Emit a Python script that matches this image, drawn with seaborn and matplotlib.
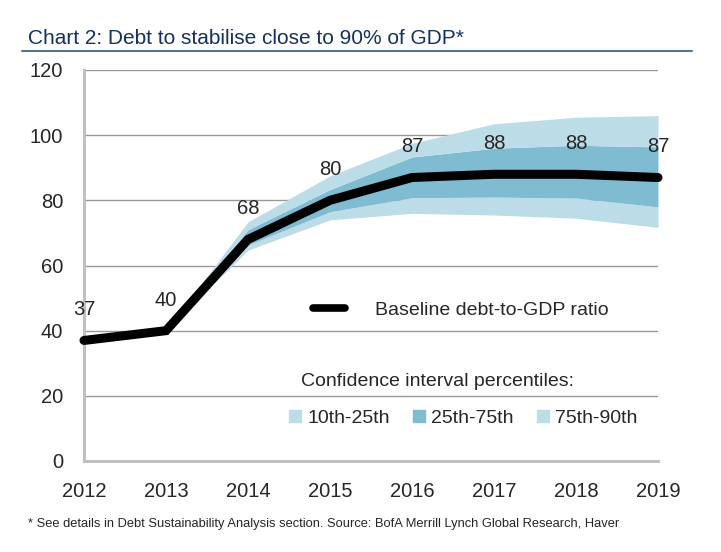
import pandas as pd
import seaborn as sns
import matplotlib.pyplot as plt
from matplotlib.lines import Line2D
from matplotlib.patches import Patch

# baseline path and the simulated percentile bands (bands start at 2013)
years = [2012, 2013, 2014, 2015, 2016, 2017, 2018, 2019]
baseline = [37, 40, 68, 80, 87, 88, 88, 87]
band_years = [2013, 2014, 2015, 2016, 2017, 2018, 2019]
p10 = [40, 64.7, 74, 76, 75.5, 74.5, 71.7]
p25 = [40, 66.3, 76.5, 80.8, 81, 80.7, 78]
p75 = [40, 71, 83.3, 93.3, 96, 96.9, 96.4]
p90 = [40, 73.4, 87.5, 97.5, 103.5, 105.5, 106]
band_labels = ['10th-25th', '25th-75th', '75th-90th']

light = '#bcdde7'
mid = '#7fbbd1'
grey = '#c0c0c0'

sns.set_style("white")
plt.rcParams['font.family'] = ['Liberation Sans', 'DejaVu Sans']

df = pd.DataFrame({'year': years, 'debt': baseline})
bands = pd.DataFrame({'year': band_years, 'p10': p10, 'p25': p25, 'p75': p75, 'p90': p90})

fig = plt.figure(figsize=(7.21, 5.52), dpi=100)
ax = fig.add_axes([84 / 721, 91 / 552, 574 / 721, 391 / 552])

ax.fill_between(bands['year'], bands['p10'], bands['p25'], color=light, lw=0)
ax.fill_between(bands['year'], bands['p25'], bands['p75'], color=mid, lw=0)
ax.fill_between(bands['year'], bands['p75'], bands['p90'], color=light, lw=0)
sns.lineplot(data=df, x='year', y='debt', ax=ax, color='black', lw=6.5,
             solid_joinstyle='miter', clip_on=False, zorder=5)

for x, v in zip(years, baseline):
    ax.annotate(str(v), (x, v), xytext=(0, 22), textcoords='offset points',
                ha='center', va='center', fontsize=14.5)

ax.set_xlim(2012, 2019)
ax.set_ylim(0, 120)
ax.set_xticks(years)
ax.set_yticks(range(0, 121, 20))
ax.set_xlabel('')
ax.set_ylabel('')
ax.yaxis.grid(True, color='#999999', lw=1)
ax.set_axisbelow(True)
for s in ['top', 'right']:
    ax.spines[s].set_visible(False)
for s in ['left', 'bottom']:
    ax.spines[s].set_color(grey)
    ax.spines[s].set_linewidth(2.2)
ax.tick_params(axis='both', direction='in', length=5, width=2, color=grey,
               labelsize=14.5, pad=15)

# legends
leg1 = ax.legend(handles=[Line2D([], [], color='black', lw=5.5)],
                 labels=['Baseline debt-to-GDP ratio'], loc='center left',
                 bbox_to_anchor=(0.399, 0.386), frameon=False, fontsize=14,
                 handlelength=1.65, handletextpad=1.55, borderpad=0, borderaxespad=0)
ax.add_artist(leg1)
patches = [Patch(color=light), Patch(color=mid), Patch(color=light)]
leg2 = ax.legend(handles=patches, labels=band_labels, ncol=3, loc='lower left',
                 bbox_to_anchor=(0.357, 0.087), frameon=False, fontsize=14,
                 title='Confidence interval percentiles:', title_fontsize=14,
                 alignment='left', handlelength=0.62, handleheight=0.62,
                 handletextpad=0.31, columnspacing=1.2, borderpad=0, borderaxespad=0)
leg2._legend_box.sep = 14
leg2.get_title().set_position((12, 0))

fig.text(28 / 721, 1 - 38 / 552, 'Chart 2: Debt to stabilise close to 90% of GDP*',
         fontsize=15, color='#15315f', va='center', ha='left')
fig.add_artist(Line2D([22 / 721, 692 / 721], [1 - 51 / 552, 1 - 51 / 552],
                      color='#5b7290', lw=1.5))
fig.text(28 / 721, 1 - 524 / 552,
         '* See details in Debt Sustainability Analysis section. Source: BofA Merrill Lynch Global Research, Haver',
         fontsize=9.3, va='center', ha='left')

fig.savefig('out.png', dpi=100)
